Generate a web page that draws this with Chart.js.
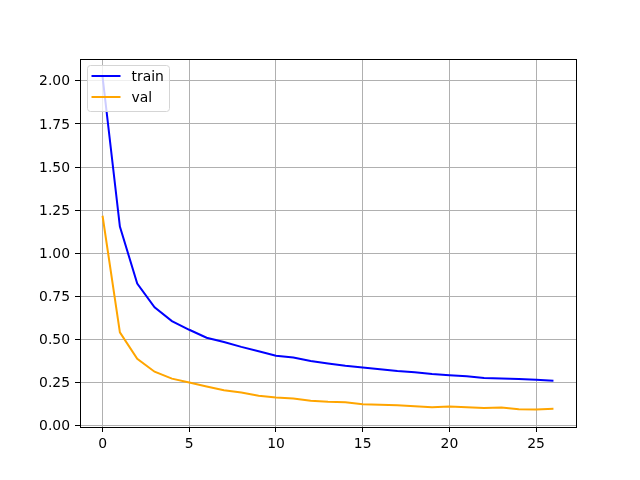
<!DOCTYPE html>
<html>
<head>
<meta charset="utf-8">
<script src="https://cdn.jsdelivr.net/npm/chart.js@4"></script>
<style>
  html, body { margin: 0; padding: 0; background: #fff; }
  canvas { display: block; }
</style>
</head>
<body>
<canvas id="myChart" width="640" height="480"></canvas>
<script>
'use strict';

var epochs = [0, 1, 2, 3, 4, 5, 6, 7, 8, 9, 10, 11, 12, 13, 14, 15, 16, 17, 18, 19, 20, 21, 22, 23, 24, 25, 26];
var trainLoss = [2.025, 1.155, 0.825, 0.687, 0.607, 0.557, 0.511, 0.486, 0.458, 0.433, 0.406, 0.396, 0.376,
                 0.362, 0.349, 0.339, 0.328, 0.318, 0.311, 0.301, 0.294, 0.288, 0.278, 0.274, 0.271, 0.267, 0.261];
var valLoss = [1.218, 0.542, 0.389, 0.314, 0.274, 0.251, 0.228, 0.207, 0.194, 0.175, 0.164, 0.159, 0.146,
               0.140, 0.137, 0.125, 0.122, 0.119, 0.114, 0.108, 0.112, 0.108, 0.104, 0.106, 0.096, 0.095, 0.099];
var xTicks = [0, 5, 10, 15, 20, 25];
var yTicks = [0, 0.25, 0.5, 0.75, 1.0, 1.25, 1.5, 1.75, 2.0];

var FONT = 'DejaVu Sans';

function toPoints(ys) {
  return ys.map(function(y, i) { return {x: epochs[i], y: y}; });
}

// matplotlib style frame round the plot area
var frame = {
  id: 'frame',
  afterDraw: function(chart) {
    var a = chart.chartArea;
    var c = chart.ctx;
    c.save();
    c.strokeStyle = '#000';
    c.lineWidth = 1;
    c.strokeRect(Math.round(a.left) + 0.5, Math.round(a.top) + 0.5,
                 Math.round(a.right - a.left), Math.round(a.bottom - a.top));
    c.restore();
  }
};

// legend box in the upper left corner
var innerLegend = {
  id: 'innerLegend',
  afterDraw: function(chart) {
    var a = chart.chartArea;
    var c = chart.ctx;
    var x = a.left + 7.5, y = a.top + 6.5, w = 82, h = 46, r = 3;
    c.save();
    c.beginPath();
    c.moveTo(x + r, y);
    c.arcTo(x + w, y, x + w, y + h, r);
    c.arcTo(x + w, y + h, x, y + h, r);
    c.arcTo(x, y + h, x, y, r);
    c.arcTo(x, y, x + w, y, r);
    c.closePath();
    c.fillStyle = 'rgba(255,255,255,0.8)';
    c.fill();
    c.strokeStyle = '#d5d5d5';
    c.lineWidth = 1;
    c.stroke();

    c.font = '13.9px "' + FONT + '"';
    c.textBaseline = 'middle';
    chart.data.datasets.forEach(function(ds, i) {
      var ly = y + 10.5 + i * 21;
      c.beginPath();
      c.moveTo(x + 4, ly);
      c.lineTo(x + 33, ly);
      c.strokeStyle = ds.borderColor;
      c.lineWidth = 2;
      c.stroke();
      c.fillStyle = '#000';
      c.fillText(ds.label, x + 44, ly + 1);
    });
    c.restore();
  }
};

var ctx = document.getElementById('myChart');

var myChart = new Chart(ctx, {
  type: 'line',
  data: {
    datasets: [
      {label: 'train', data: toPoints(trainLoss), borderColor: '#0000ff', borderWidth: 2,
       pointRadius: 0, tension: 0, fill: false},
      {label: 'val', data: toPoints(valLoss), borderColor: '#ffa500', borderWidth: 2,
       pointRadius: 0, tension: 0, fill: false}
    ]
  },
  options: {
    responsive: false,
    devicePixelRatio: 1,
    animation: false,
    layout: {padding: {top: 59, right: 64, left: 0, bottom: 0}},
    plugins: {legend: {display: false}, tooltip: {enabled: false}},
    scales: {
      x: {
        type: 'linear',
        min: -1.3,
        max: 27.3,
        afterBuildTicks: function(scale) {
          scale.ticks = xTicks.map(function(v) { return {value: v}; });
        },
        afterFit: function(scale) { scale.height = 53; },
        grid: {color: '#b0b0b0', lineWidth: 1, tickColor: '#000', tickLength: 5},
        border: {display: false},
        ticks: {color: '#000', padding: 4, maxRotation: 0,
                font: {family: FONT, size: 13.9},
                callback: function(v) { return String(v); }}
      },
      y: {
        type: 'linear',
        min: -0.0065,
        max: 2.1265,
        afterBuildTicks: function(scale) {
          scale.ticks = yTicks.map(function(v) { return {value: v}; });
        },
        afterFit: function(scale) { scale.width = 80; },
        grid: {color: '#b0b0b0', lineWidth: 1, tickColor: '#000', tickLength: 5},
        border: {display: false},
        ticks: {color: '#000', padding: 5, labelOffset: 1,
                font: {family: FONT, size: 13.9},
                callback: function(v) { return Number(v).toFixed(2); }}
      }
    }
  },
  plugins: [frame, innerLegend]
});
</script>
</body>
</html>
